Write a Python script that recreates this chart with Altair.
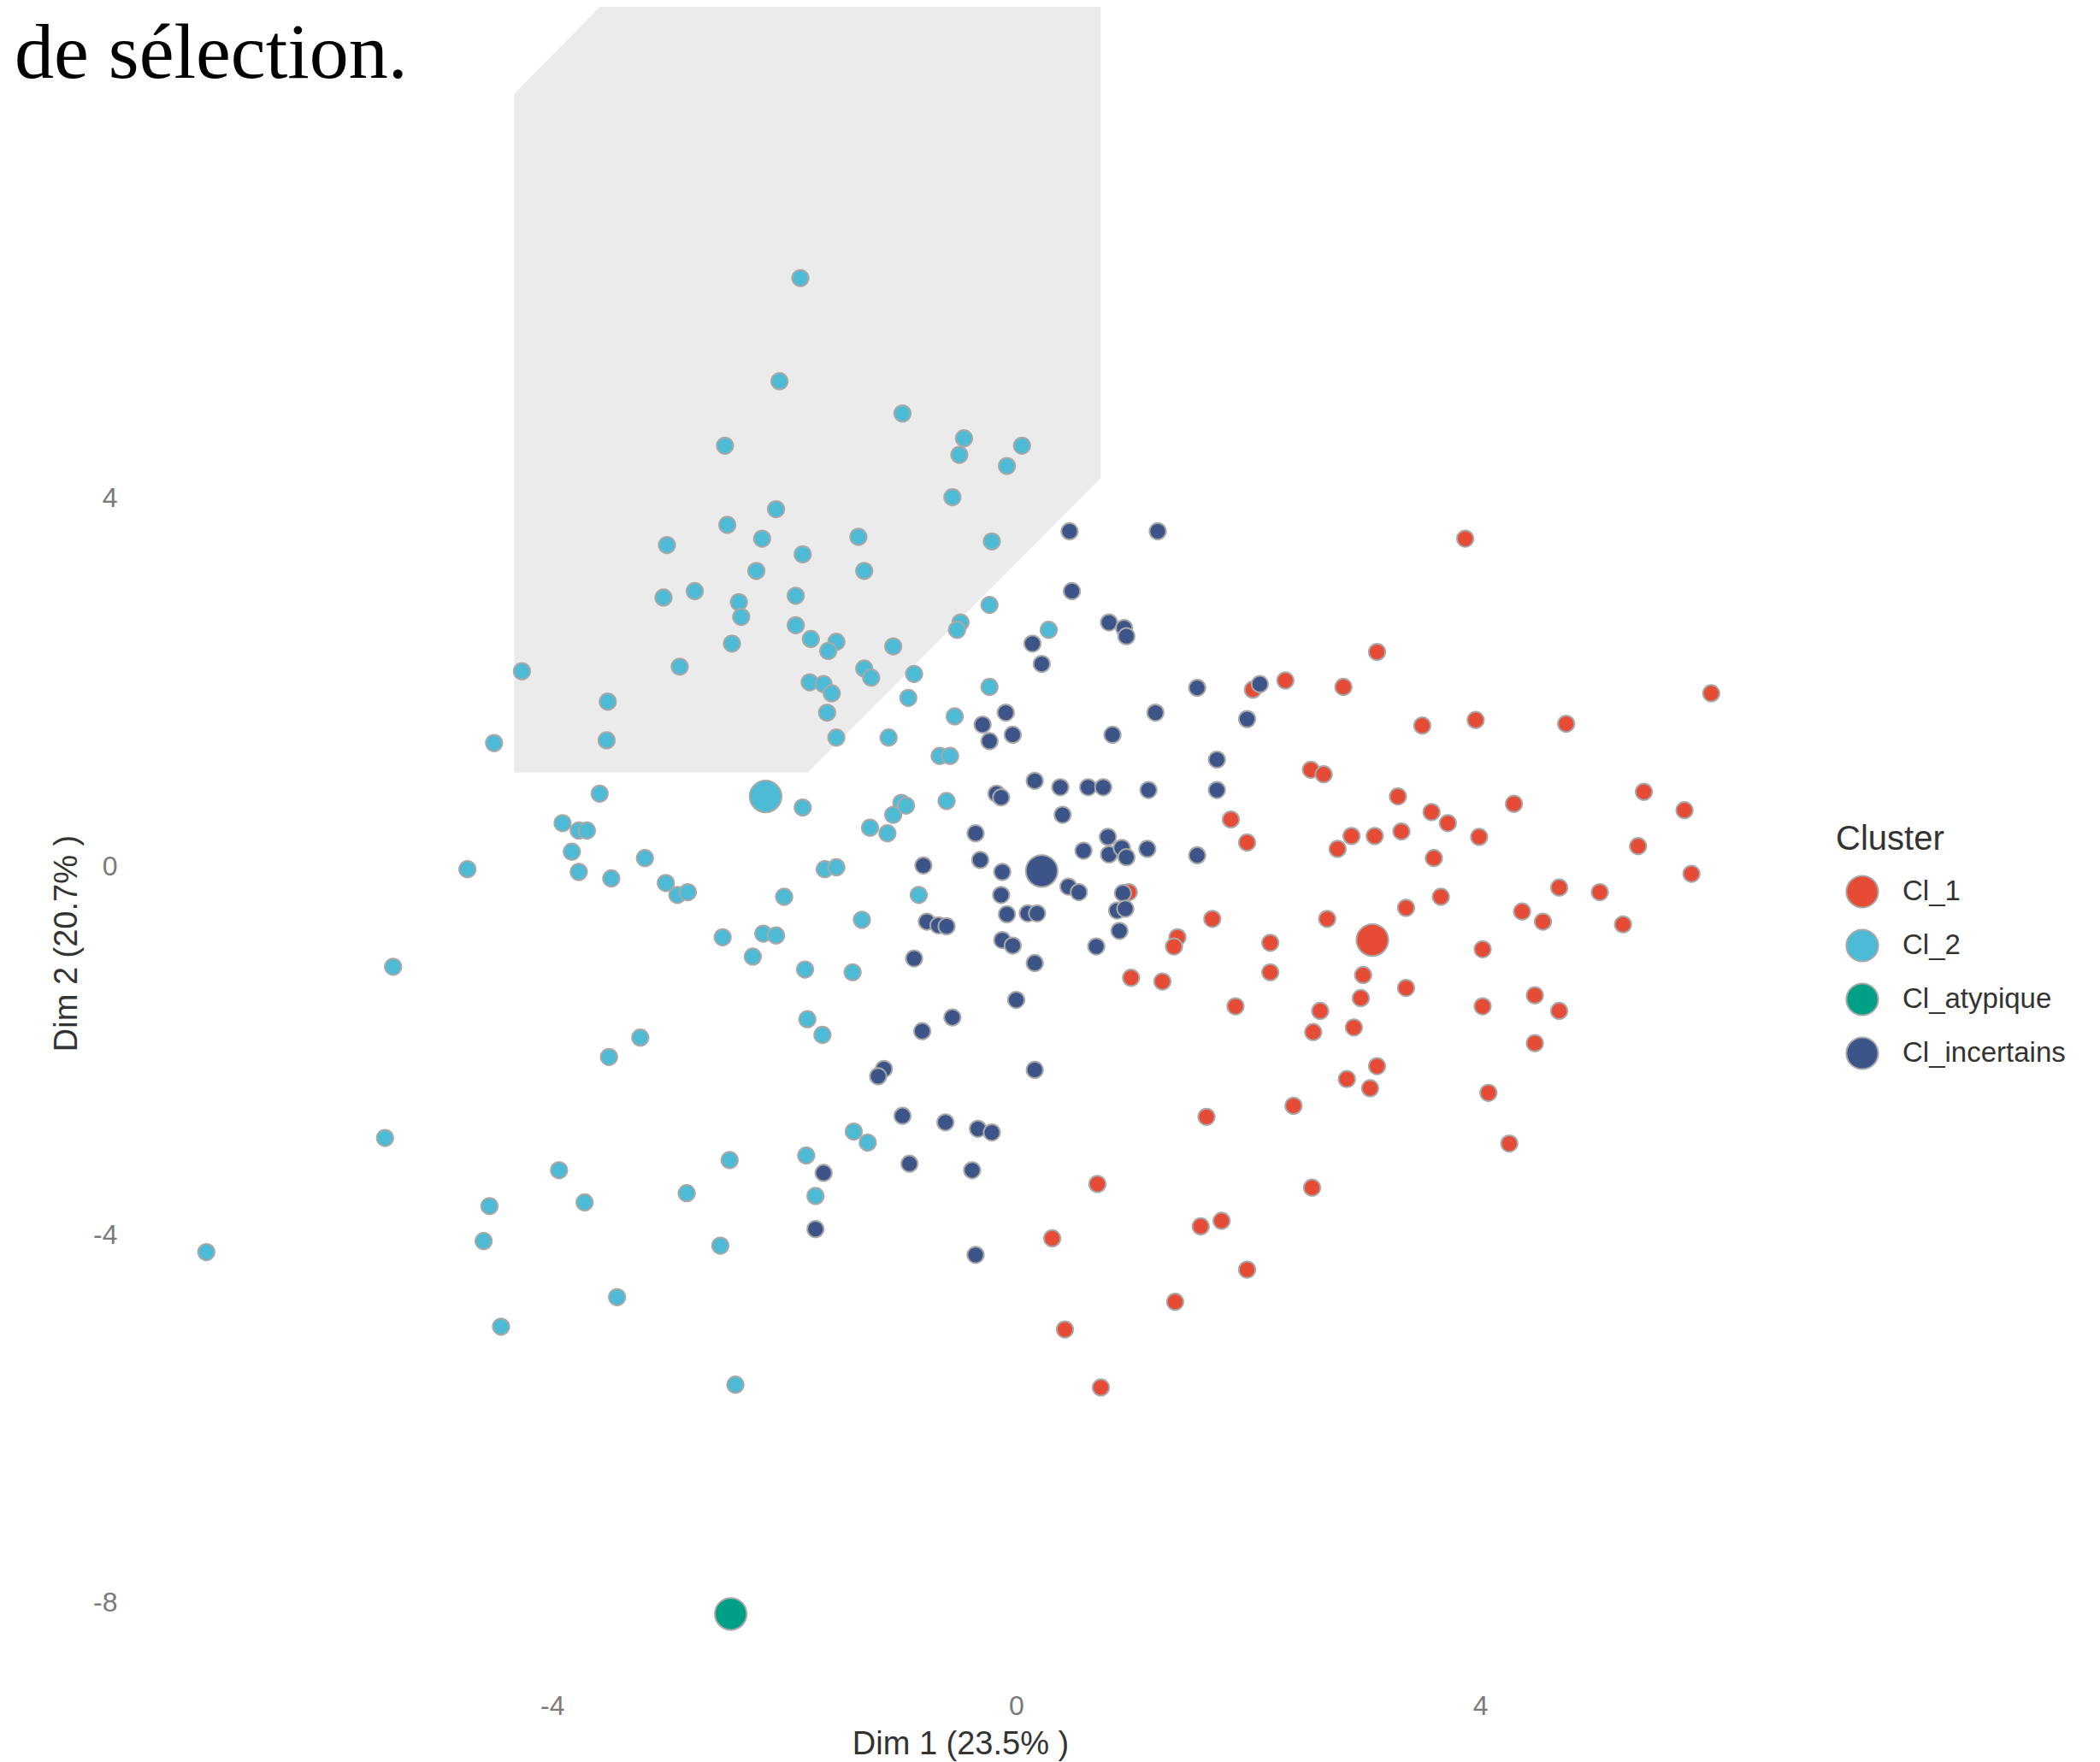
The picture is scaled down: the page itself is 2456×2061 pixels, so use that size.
import altair as alt
import pandas as pd

# ---------------- data ----------------
clusters = ["Cl_1", "Cl_2", "Cl_atypique", "Cl_incertains"]
colors = ["#E64B35", "#4DBBD5", "#00A087", "#3C5488"]

cl1_x = [3.87, 3.11, 5.99, 2.32, 2.04, 2.82, 3.50, 3.96, 4.74, 2.54,
         2.65, 3.29, 4.29, 5.41, 5.76, 1.85, 3.58, 3.72, 2.89, 3.09,
         3.32, 3.99, 2.77, 1.99, 3.60, 5.36, 5.82, 0.97, 4.68, 5.03,
         3.66, 3.36, 4.36, 4.54, 5.23, 1.69, 2.68, 1.39, 1.36, 2.19,
         4.02, 0.99, 1.26, 2.19, 2.99, 3.36, 2.97, 4.47, 1.89, 2.62,
         4.02, 4.68, 2.56, 2.91, 4.47, 3.11, 2.85, 3.05, 4.07, 1.64,
         2.39, 4.25, 0.70, 2.55, 1.59, 1.77, 0.31, 1.99, 1.37, 0.42,
         0.73]
cl1_y = [3.56, 2.33, 1.88, 2.02, 1.92, 1.95, 1.53, 1.59, 1.55, 1.05,
         1.00, 0.76, 0.68, 0.81, 0.61, 0.51, 0.59, 0.47, 0.33, 0.33,
         0.38, 0.32, 0.19, 0.26, 0.09, 0.22, -0.08, -0.28, -0.23, -0.28,
         -0.33, -0.45, -0.49, -0.60, -0.63, -0.57, -0.57, -0.77, -0.87, -0.83,
         -0.90, -1.21, -1.25, -1.15, -1.18, -1.32, -1.43, -1.40, -1.52, -1.57,
         -1.52, -1.57, -1.80, -1.75, -1.92, -2.17, -2.31, -2.41, -2.46, -2.72,
         -2.60, -3.01, -3.45, -3.49, -3.91, -3.85, -4.04, -4.38, -4.73, -5.03,
         -5.66]

cl2_x = [-1.86, -2.04, -0.98, -2.51, -0.45, -0.49, 0.05, -0.08, -0.55, -2.07,
         -2.49, -2.19, -3.01, -1.84, -1.36, -0.21, -2.24, -1.31, -2.77, -3.04,
         -1.90, -2.39, -2.37, -0.23, -1.90, -0.48, -0.51, -2.45, -1.77, -1.55,
         -1.62, -1.06, 0.28, -2.90, -1.31, -1.25, -0.88, -4.26, -1.78, -1.66,
         -1.59, -0.23, -0.93, -3.52, -1.63, -0.53, -3.53, -4.50, -1.55, -1.10,
         -0.66, -0.57, -3.59, -1.84, -0.99, -1.06, -0.95, -0.60, -3.91, -3.77,
         -3.70, -1.26, -1.11, -3.83, -1.65, -1.55, -3.20, -4.73, -3.77, -3.49,
         -3.02, -2.92, -2.83, -2.00, -0.84, -1.33, -2.18, -2.07, -2.53, -2.27,
         -5.37, -1.82, -1.41, -1.80, -1.67, -3.24, -3.51, -5.44, -1.40, -1.28,
         -1.81, -2.47, -3.94, -1.73, -2.84, -3.72, -4.54, -4.59, -2.55, -6.98,
         -3.44, -4.44, -2.42]
cl2_y = [6.39, 5.27, 4.92, 4.57, 4.65, 4.47, 4.57, 4.35, 4.01, 3.88,
         3.71, 3.56, 3.49, 3.39, 3.58, 3.53, 3.21, 3.21, 2.99, 2.92,
         2.94, 2.87, 2.71, 2.84, 2.62, 2.65, 2.57, 2.42, 2.47, 2.44,
         2.34, 2.39, 2.57, 2.17, 2.15, 2.05, 2.09, 2.12, 2.00, 1.98,
         1.88, 1.95, 1.83, 1.79, 1.67, 1.63, 1.37, 1.34, 1.40, 1.40,
         1.20, 1.20, 0.79, 0.64, 0.69, 0.56, 0.66, 0.71, 0.47, 0.39,
         0.39, 0.42, 0.36, 0.16, -0.03, -0.01, 0.09, -0.03, -0.06, -0.13,
         -0.18, -0.31, -0.28, -0.33, -0.31, -0.58, -0.73, -0.75, -0.77, -0.98,
         -1.09, -1.12, -1.15, -1.66, -1.83, -1.86, -2.07, -2.95, -2.88, -3.00,
         -3.14, -3.19, -3.30, -3.58, -3.55, -3.65, -3.69, -4.07, -4.12, -4.19,
         -4.68, -5.00, -5.63]

inc_x = [0.46, 1.22, 0.48, 0.80, 0.93, 0.95, 0.14, 0.22, 1.56, -0.09,
         -0.29, -0.03, -0.23, 1.20, 0.83, 1.99, 2.10, 1.73, 0.16, 0.38,
         0.62, 0.75, 1.14, 1.73, -0.17, -0.13, 0.40, -0.35, 0.79, 0.80,
         0.91, 0.95, 0.58, 1.13, 1.56, -0.80, -0.31, -0.12, 0.45, 0.54,
         0.92, -0.13, 0.87, 0.94, -0.08, 0.10, 0.18, -0.77, -0.67, -0.60,
         0.89, -0.12, -0.03, 0.69, -0.88, 0.16, 0.00, -0.55, -0.81, 0.16,
         -1.14, -1.19, -0.98, -0.61, -0.33, -0.21, -0.92, -0.38, -1.66, -1.73,
         -0.35]
inc_y = [3.64, 3.64, 2.99, 2.65, 2.59, 2.50, 2.42, 2.20, 1.94, 1.67,
         1.54, 1.43, 1.36, 1.67, 1.43, 1.60, 1.98, 1.16, 0.93, 0.86,
         0.86, 0.86, 0.83, 0.83, 0.79, 0.75, 0.56, 0.36, 0.32, 0.13,
         0.20, 0.10, 0.17, 0.19, 0.12, 0.01, 0.07, -0.06, -0.22, -0.28,
         -0.29, -0.31, -0.48, -0.46, -0.52, -0.51, -0.51, -0.60, -0.64, -0.65,
         -0.70, -0.80, -0.86, -0.87, -1.00, -1.05, -1.45, -1.64, -1.79, -2.21,
         -2.20, -2.28, -2.71, -2.78, -2.85, -2.89, -3.23, -3.30, -3.33, -3.94,
         -4.22]

centre_cluster = ["Cl_1", "Cl_2", "Cl_atypique", "Cl_incertains"]
centre_x = [3.07, -2.16, -2.46, 0.22]
centre_y = [-0.80, 0.76, -8.12, -0.05]

# grey selection zone (polygon corners, data units; top runs off the page)
zone_x = [-4.326, -3.070, -1.798, 0.729]
zone_lo = [1.018, 1.018, 1.018, 4.218]
zone_hi = [8.393, 10.0, 10.0, 10.0]

caption = "de sélection."

# ---------------- tables ----------------
rows = []
for name, xs, ys in [("Cl_1", cl1_x, cl1_y), ("Cl_2", cl2_x, cl2_y),
                     ("Cl_incertains", inc_x, inc_y)]:
    for a, b in zip(xs, ys):
        rows.append({"x": a, "y": b, "cluster": name, "kind": "ind", "o": 0})
for name, a, b in zip(centre_cluster, centre_x, centre_y):
    rows.append({"x": a, "y": b, "cluster": name, "kind": "centre", "o": 1})
df = pd.DataFrame(rows)
zone_df = pd.DataFrame({"x": zone_x, "lo": zone_lo, "hi": zone_hi})

W, H = 1946, 1967
xscale = alt.Scale(domain=[-7.653, 6.688], nice=False, zero=False)
yscale = alt.Scale(domain=[-8.930, 9.337], nice=False, zero=False)

FONT = "Liberation Sans"
xaxis = alt.Axis(values=[-4, 0, 4], labelExpr="'' + datum.value", title="Dim 1 (23.5% )",
                 grid=False, domain=False, ticks=False,
                 labelFont=FONT, labelFontSize=32, labelColor="#7a7a7a", labelPadding=5,
                 titleFont=FONT, titleFontSize=38, titleColor="#333333", titleFontWeight="normal",
                 titleBaseline="alphabetic", titleY=76)
yaxis = alt.Axis(values=[-8, -4, 0, 4], labelExpr="'' + datum.value", title="Dim 2 (20.7% )",
                 grid=False, domain=False, ticks=False,
                 labelFont=FONT, labelFontSize=32, labelColor="#7a7a7a", labelPadding=13,
                 titleFont=FONT, titleFontSize=38, titleColor="#333333", titleFontWeight="normal",
                 titleX=-72, titleY=1095, titleBaseline="middle", titleAlign="center", titleAngle=-90)

zone = alt.Chart(zone_df).mark_area(color="#EBEBEB", opacity=1, clip=True).encode(
    x=alt.X("x:Q", scale=xscale, axis=xaxis),
    y=alt.Y("hi:Q", scale=yscale, axis=yaxis),
    y2="lo:Q",
)

points = alt.Chart(df).mark_circle(opacity=1, stroke="#a8a8a8", strokeWidth=2).encode(
    x=alt.X("x:Q", scale=xscale, axis=xaxis),
    y=alt.Y("y:Q", scale=yscale, axis=yaxis),
    fill=alt.Fill("cluster:N", scale=alt.Scale(domain=clusters, range=colors),
                  legend=alt.Legend(title="Cluster", orient="none", legendX=1997, legendY=954,
                                    padding=0, titleFont=FONT, titleFontSize=40,
                                    titleFontWeight="normal", titleColor="#333333",
                                    titlePadding=21, labelFont=FONT, labelFontSize=33,
                                    labelColor="#333333", labelLimit=0,
                                    symbolType="circle", symbolSize=1385,
                                    symbolStrokeColor="#a8a8a8", symbolStrokeWidth=2,
                                    symbolOpacity=1, symbolOffset=11, labelOffset=27,
                                    rowPadding=17)),
    size=alt.Size("kind:N", scale=alt.Scale(domain=["ind", "centre"], range=[370, 1385]),
                  legend=None),
    order=alt.Order("o:Q"),
)

text = alt.Chart(pd.DataFrame({"t": [caption]})).mark_text(
    font="Liberation Serif", fontSize=92, align="left", baseline="alphabetic", color="black"
).encode(text="t:N", x=alt.value(-133), y=alt.value(83))

chart = alt.layer(zone, points, text).properties(
    width=W, height=H,
    padding={"left": 142, "top": 0, "right": 336, "bottom": 86},
    autosize=alt.AutoSizeParams(type="none"),
    background="white",
).configure_view(stroke=None)

chart.save("out.html", embed_options={"renderer": "svg", "actions": False})
